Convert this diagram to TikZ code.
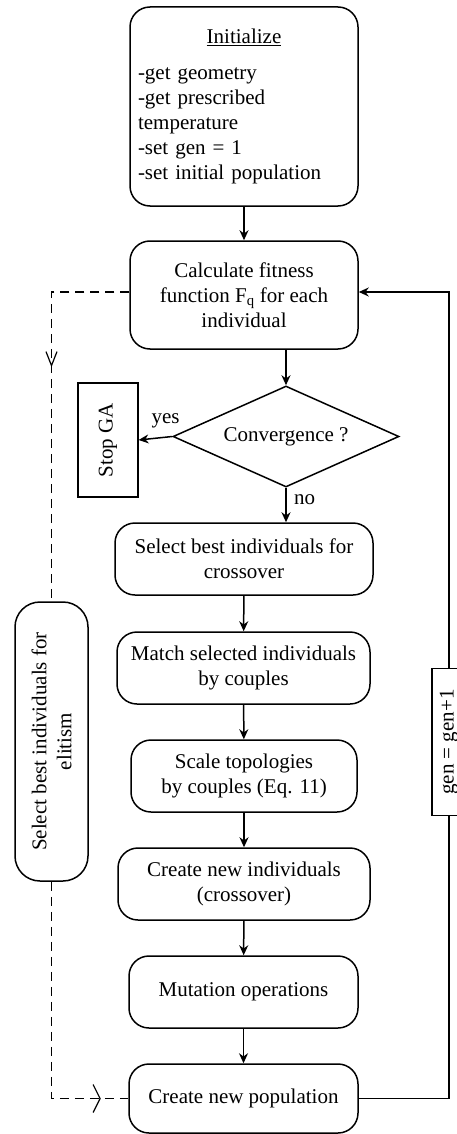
\documentclass[tikz,border=0pt]{standalone}
\usepackage{fontspec}
\setmainfont{Liberation Serif}
\usetikzlibrary{arrows.meta, shapes.geometric, decorations.markings}

\begin{document}
\begin{tikzpicture}[x=1pt, y=-1pt, line width=1.5pt, font=\fontsize{21}{25}\selectfont,
		stepbox/.style={draw, rounded corners=20pt, align=center, inner sep=0pt},
		decide/.style={draw, diamond, aspect=2.2, inner sep=0pt, minimum width=226pt, minimum height=101pt},
		flow/.style={-{Stealth[length=10pt, width=9pt]}},
		elite/.style={dash pattern=on 9pt off 6pt, line width=1.2pt}]
	\useasboundingbox (0,0) rectangle (456,1134);
	% main column
	\node[stepbox, minimum width=228pt, minimum height=199pt, text width=212pt, align=left] (init) at (244,106.5)
		{\makebox[212pt]{\underline{Initialize}}\\[11pt] -get geometry\\ -get prescribed\\ temperature\\ -set gen = 1\\ -set initial population};
	\node[stepbox, minimum width=228pt, minimum height=108pt] (calc) at (244,295)
		{Calculate fitness\\ function F\textsubscript{q} for each\\ individual};
	\node[decide] (conv) at (286,436.5) {Convergence ?};
	\node[draw, rotate=90, minimum width=114pt, minimum height=60pt, line width=1.2pt] (stop) at (108,440) {Stop GA};
	\node[stepbox, minimum width=258pt, minimum height=72pt] (sel) at (244,559) {Select best individuals for\\ crossover};
	\node[stepbox, minimum width=253pt, minimum height=72pt] (match) at (243.5,668) {Match selected individuals\\ by couples};
	\node[stepbox, minimum width=226pt, minimum height=72pt] (scale) at (244,776) {Scale topologies\\ by couples (Eq. 11)};
	\node[stepbox, minimum width=252pt, minimum height=72pt] (cross) at (244,884) {Create new individuals\\ (crossover)};
	\node[stepbox, minimum width=229pt, minimum height=72pt] (mut) at (243.5,992) {Mutation operations};
	\node[stepbox, minimum width=229pt, minimum height=69pt] (pop) at (243.5,1098.5) {Create new population};
	% side boxes
	\node[stepbox, rotate=90, minimum width=279pt, minimum height=73pt, rounded corners=25pt] (elit) at (51.5,741.5)
		{Select best individuals for\\ elitism};
	\coordinate (loopR) at (449,1098.5);
	\coordinate (loopT) at (449,292);
	\coordinate (elitT) at (51.5,292);
	\coordinate (elitB) at (51.5,1098.5);
	% connectors
	\draw[flow] (init) -- (calc);
	\draw[flow] (calc.south -| conv.north) -- (conv.north);
	\draw[flow] (conv.west) -- node[pos=0.2, above=5pt] {yes} (stop.south);
	\draw[flow] (conv.south) -- node[pos=0.35, right=4pt] {no} (conv.south |- sel.north);
	\draw[flow] (sel) -- (match);
	\draw[flow] (match) -- (scale);
	\draw[flow] (scale) -- (cross);
	\draw[flow] (cross) -- (mut);
	\draw[flow] (mut) -- (pop);
	\draw[flow] (pop.east) -- (loopR) -- (loopT) -- (calc.east |- loopT);
	\node[draw, fill=white, rotate=90, minimum width=147pt, minimum height=34pt, line width=1.2pt] (gen) at (449,742) {gen = gen+1};
	\draw[elite, postaction={decorate}, decoration={markings,
		mark=at position 153pt with {\arrow{Straight Barb[length=14pt, width=11pt, line width=1.2pt]}}}]
		(calc.west |- elitT) -- (elitT) -- (elit.east);
	\draw[elite, postaction={decorate}, decoration={markings,
		mark=at position 266pt with {\arrow{Straight Barb[length=7pt, width=28pt, line width=1.2pt]}}}]
		(elit.west) -- (elitB) -- (pop.west);
\end{tikzpicture}
\end{document}
